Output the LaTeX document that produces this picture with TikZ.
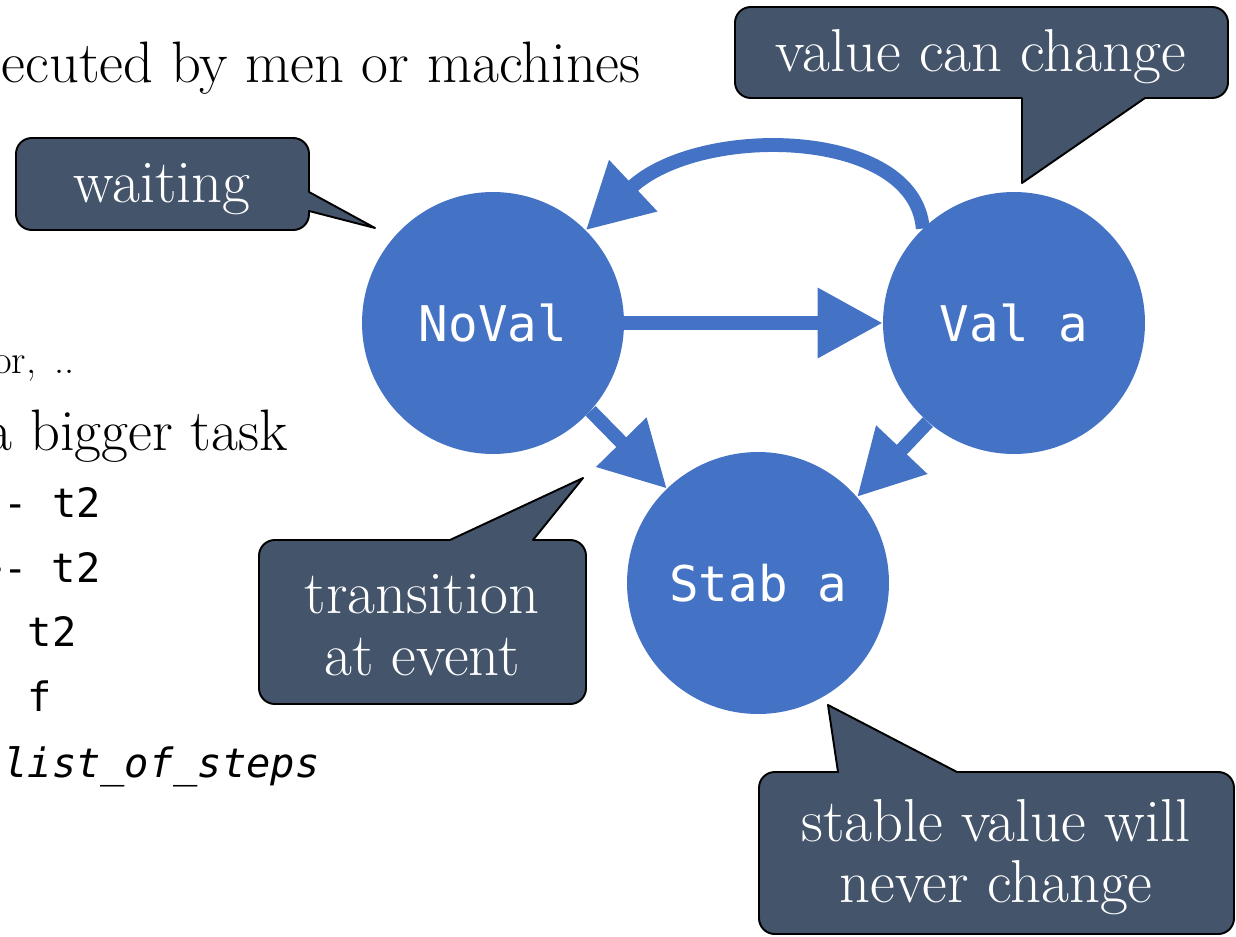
\documentclass[tikz,border=0pt]{standalone}
\usepackage{fontspec}
\newfontfamily\codefont{DejaVu Sans Mono}
\usetikzlibrary{arrows.meta}
\definecolor{stateblue}{HTML}{4472C4}
\definecolor{notefill}{HTML}{44546A}
\begin{document}
\begin{tikzpicture}[x=0.02cm,y=-0.02cm,
  state/.style={circle, fill=stateblue, minimum size=5.24cm, inner sep=0pt,
    text=white, font=\codefont\fontsize{28}{32}\selectfont},
  trans/.style={draw=stateblue, line width=7.9pt,
    -{Triangle[length=37pt,width=38pt]}},
  note/.style={draw=black, line width=1.1pt, fill=notefill, line join=round},
  notetext/.style={text=white, align=center, inner sep=0pt,
    font=\fontsize{34.5}{35}\selectfont},
  body/.style={inner sep=0pt, font=\fontsize{33.3}{38}\selectfont},
  small/.style={inner sep=0pt, font=\fontsize{23}{27}\selectfont},
  code/.style={inner sep=0pt, anchor=base west,
    font=\codefont\fontsize{23}{27}\selectfont},
]
\useasboundingbox (0,0) rectangle (1236,936);
\clip (0,0) rectangle (1236,936);

% slide text on the left
\node[body, anchor=base east] (line1) at (641,83) {ecuted by men or machines};
\node[small, anchor=base east] (line2) at (75,373) {or,\hspace{0.45em}..};
\node[body, anchor=base east] (line3) at (288,450) {a bigger task};
\node[code] (c1) at (3,517) {- t2};
\node[code] (c2) at (-21.5,582) {>- t2};
\node[code] (c3) at (27.5,646) {t2};
\node[code] (c4) at (27.5,711) {f};
\node[code] (c5) at (3,777) {\itshape list\_of\_steps};

% states
\node[state] (noval) at (493,323) {NoVal};
\node[state] (val)   at (1014,323) {Val a};
\node[state] (stab)  at (758,583) {Stab a};

% transitions
\draw[trans] (noval.east) -- (val.west);
\draw[trans] (val.134) .. controls (915,128) and (700,123) .. (noval.45);
\draw[trans] (noval.-42) -- (stab.134);
\draw[trans] (val.229) -- (stab.41);

% callouts: rounded boxes with sharp pointers
\draw[note] (160,138) [rounded corners=9pt] -- (309,138) [sharp corners] -- (309,192)
  -- (375,228) -- (309,211)
  [rounded corners=9pt] -- (309,230) -- (16,230) -- (16,138) -- cycle;
\node[notetext] (waiting) at (162,189) {waiting};

\draw[note] (980,7) [rounded corners=9pt] -- (1228,7) -- (1228,98) [sharp corners] -- (1145,98)
  -- (1022,183) -- (1022,98)
  [rounded corners=9pt] -- (735,98) -- (735,7) -- cycle;
\node[notetext] (changing) at (981,57) {value can change};

\draw[note] (259,620) [rounded corners=9pt] -- (259,540) [sharp corners] -- (450,540)
  -- (583,478) -- (533,540)
  [rounded corners=9pt] -- (586,540) -- (586,704) -- (259,704) -- cycle;
\node[notetext] (event) at (422,625) {transition\\at event};

\draw[note] (759,850) [rounded corners=9pt] -- (759,772) [sharp corners] -- (838,772)
  -- (828,705) -- (957,772)
  [rounded corners=9pt] -- (1234,772) -- (1234,934) -- (759,934) -- cycle;
\node[notetext] (stable) at (996,857) {stable value will\\never change};
\end{tikzpicture}
\end{document}
